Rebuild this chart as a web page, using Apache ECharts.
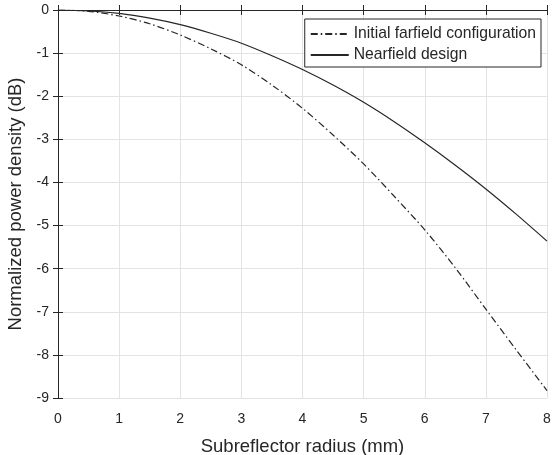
<!DOCTYPE html>
<html>
<head>
<meta charset="utf-8">
<script src="https://cdn.jsdelivr.net/npm/echarts@6/dist/echarts.min.js"></script>
<style>
  html, body { margin: 0; padding: 0; background: #fff; }
  #chart { width: 552px; height: 455px; }
</style>
</head>
<body>
<div id="chart"></div>
<script>
// Subreflector radius (mm)
const radius = [0, 0.5, 1, 1.5, 2, 2.5, 3, 3.5, 4, 4.5, 5, 5.5, 6, 6.5, 7, 7.5, 8];
// Normalized power density (dB) for each configuration
const farfield = [0, -0.03, -0.14, -0.32, -0.58, -0.9, -1.27, -1.74, -2.28, -2.9, -3.57, -4.32, -5.1, -5.98, -6.94, -7.89, -8.83];
const nearfield = [0, -0.02, -0.08, -0.19, -0.34, -0.54, -0.77, -1.06, -1.38, -1.74, -2.14, -2.59, -3.08, -3.6, -4.15, -4.74, -5.36];
const seriesNames = ['Initial farfield configuration', 'Nearfield design'];
const xTicks = [0, 1, 2, 3, 4, 5, 6, 7, 8];
const yTicks = [0, -1, -2, -3, -4, -5, -6, -7, -8, -9];

const font = "'Liberation Sans', Arial, sans-serif";
const ink = '#262626';
const pair = (xs, ys) => xs.map((x, i) => [x, ys[i]]);

const chart = echarts.init(document.getElementById('chart'));
const xBase = {
  type: 'value', min: xTicks[0], max: xTicks[xTicks.length - 1], interval: 1,
  axisLine: { lineStyle: { color: ink, width: 1 } },
  axisTick: { inside: true, length: 5, lineStyle: { color: ink } }
};
const yBase = {
  type: 'value', min: yTicks[yTicks.length - 1], max: yTicks[0], interval: 1,
  axisLine: { lineStyle: { color: ink, width: 1 } },
  axisTick: { inside: true, length: 5, lineStyle: { color: ink } }
};
chart.setOption({
  animation: false,
  backgroundColor: '#fff',
  grid: { left: 58, right: 5, top: 10, bottom: 57, containLabel: false, outerBoundsMode: 'none' },
  xAxis: [
    Object.assign({}, xBase, {
      position: 'bottom',
      name: 'Subreflector radius (mm)', nameLocation: 'middle', nameGap: 39,
      nameTextStyle: { fontFamily: font, fontSize: 18.5, color: ink },
      axisLabel: { fontFamily: font, fontSize: 14, color: ink, margin: 14 },
      splitLine: { show: true, lineStyle: { color: '#e3e3e3', width: 1 } }
    }),
    Object.assign({}, xBase, {
      position: 'top', axisLabel: { show: false }, splitLine: { show: false }
    })
  ],
  yAxis: [
    Object.assign({}, yBase, {
      position: 'left',
      name: 'Normalized power density (dB)', nameLocation: 'middle', nameGap: 25,
      nameTextStyle: { fontFamily: font, fontSize: 18.5, color: ink },
      axisLabel: { fontFamily: font, fontSize: 14, color: ink, margin: 9 },
      splitLine: { show: true, lineStyle: { color: '#e3e3e3', width: 1 } }
    }),
    Object.assign({}, yBase, {
      position: 'right', axisLabel: { show: false }, splitLine: { show: false }
    })
  ],
  legend: {
    orient: 'vertical', right: 11, top: 19,
    backgroundColor: '#fff', borderColor: ink, borderWidth: 1,
    padding: [7, 5, 4, 5], itemGap: 5, itemWidth: 38, itemHeight: 14,
    itemStyle: { opacity: 0 },
    textStyle: { fontFamily: font, fontSize: 15.7, color: ink },
    data: seriesNames
  },
  series: [
    {
      name: seriesNames[0], type: 'line', data: pair(radius, farfield),
      smooth: 0.3, symbol: 'none',
      lineStyle: { color: ink, width: 1.2, type: [7, 3, 1.5, 3] },
      itemStyle: { color: ink }
    },
    {
      name: seriesNames[1], type: 'line', data: pair(radius, nearfield),
      smooth: 0.3, symbol: 'none',
      lineStyle: { color: ink, width: 1.2, type: 'solid' },
      itemStyle: { color: ink }
    }
  ]
});
</script>
</body>
</html>
